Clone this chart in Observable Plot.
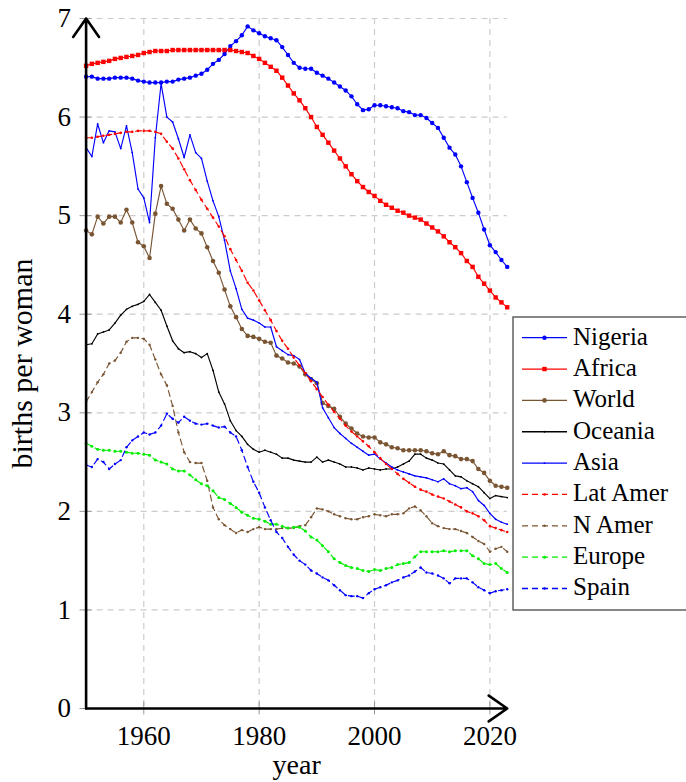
<!DOCTYPE html>
<html><head><meta charset="utf-8">
<script src="https://cdn.jsdelivr.net/npm/d3@7"></script>
<script src="https://cdn.jsdelivr.net/npm/@observablehq/plot@0.6"></script>
<style>
body{margin:0;background:#fff;overflow:hidden}
#chart{position:relative;width:686px;height:782px}
</style>
</head><body><div id="chart"></div>
<script>
const years = d3.range(1950, 2024);
const yTicks = [0, 1, 2, 3, 4, 5, 6, 7];
const xTicks = [1960, 1980, 2000, 2020];
const names = ["Nigeria", "Africa", "World", "Oceania", "Asia", "Lat Amer", "N Amer", "Europe", "Spain"];

const nigeria = [
 6.41,6.41,6.39,6.39,6.39,6.40,6.40,6.40,6.39,6.37,
 6.36,6.35,6.35,6.35,6.36,6.36,6.38,6.39,6.40,6.42,
 6.44,6.48,6.54,6.58,6.64,6.72,6.77,6.83,6.92,6.88,
 6.85,6.82,6.80,6.78,6.71,6.63,6.55,6.50,6.49,6.49,
 6.45,6.42,6.39,6.35,6.31,6.27,6.21,6.13,6.07,6.08,
 6.12,6.12,6.11,6.10,6.09,6.06,6.05,6.02,6.02,5.99,
 5.94,5.89,5.79,5.69,5.62,5.50,5.34,5.18,5.03,4.86,
 4.70,4.63,4.55,4.48];
const africa = [
 6.52,6.54,6.55,6.56,6.57,6.59,6.60,6.61,6.62,6.63,
 6.65,6.66,6.67,6.67,6.67,6.68,6.68,6.68,6.68,6.68,
 6.68,6.68,6.68,6.68,6.68,6.68,6.67,6.66,6.65,6.62,
 6.59,6.55,6.51,6.47,6.40,6.32,6.24,6.17,6.09,6.00,
 5.90,5.82,5.74,5.66,5.58,5.50,5.42,5.35,5.29,5.24,
 5.20,5.15,5.11,5.08,5.05,5.03,5.00,4.98,4.96,4.92,
 4.88,4.84,4.79,4.73,4.68,4.62,4.54,4.48,4.38,4.31,
 4.24,4.17,4.12,4.07];
const world = [
 4.85,4.81,4.99,4.92,4.99,4.99,4.93,5.06,4.93,4.73,
 4.69,4.57,5.02,5.30,5.12,5.07,4.96,4.85,4.96,4.87,
 4.82,4.68,4.54,4.42,4.25,4.08,3.97,3.85,3.78,3.77,
 3.75,3.72,3.71,3.58,3.55,3.51,3.50,3.47,3.39,3.34,
 3.30,3.10,3.07,3.04,2.96,2.89,2.84,2.79,2.76,2.75,
 2.75,2.70,2.68,2.65,2.64,2.62,2.62,2.62,2.62,2.61,
 2.59,2.58,2.61,2.57,2.56,2.53,2.53,2.51,2.43,2.39,
 2.31,2.26,2.25,2.24];
const oceania = [
 3.69,3.70,3.80,3.82,3.84,3.91,3.99,4.05,4.08,4.10,
 4.13,4.20,4.12,4.04,3.88,3.73,3.65,3.61,3.62,3.60,
 3.56,3.60,3.43,3.21,3.09,2.92,2.82,2.76,2.68,2.63,
 2.60,2.62,2.60,2.58,2.54,2.54,2.52,2.51,2.50,2.50,
 2.55,2.50,2.52,2.50,2.48,2.45,2.45,2.44,2.42,2.44,
 2.43,2.42,2.43,2.43,2.45,2.48,2.51,2.58,2.58,2.54,
 2.52,2.49,2.48,2.42,2.36,2.35,2.31,2.28,2.25,2.19,
 2.13,2.16,2.15,2.14];
const asia = [
 5.69,5.60,5.93,5.74,5.86,5.85,5.68,5.91,5.64,5.27,
 5.18,4.93,5.79,6.34,6.00,5.95,5.78,5.59,5.82,5.64,
 5.58,5.35,5.15,4.99,4.75,4.44,4.26,4.05,3.96,3.94,
 3.91,3.87,3.87,3.67,3.63,3.59,3.58,3.54,3.40,3.35,
 3.31,3.05,2.95,2.85,2.79,2.74,2.69,2.65,2.61,2.57,
 2.58,2.53,2.49,2.45,2.42,2.40,2.38,2.36,2.35,2.34,
 2.32,2.30,2.33,2.28,2.26,2.23,2.24,2.20,2.11,2.06,
 1.98,1.92,1.89,1.87];
const latAmer = [
 5.79,5.79,5.80,5.81,5.82,5.83,5.84,5.85,5.85,5.86,
 5.86,5.86,5.85,5.83,5.75,5.68,5.58,5.47,5.36,5.26,
 5.16,5.07,4.98,4.89,4.79,4.66,4.55,4.44,4.32,4.24,
 4.14,4.04,3.94,3.83,3.73,3.65,3.56,3.48,3.40,3.32,
 3.24,3.16,3.08,3.01,2.94,2.87,2.81,2.76,2.71,2.66,
 2.60,2.54,2.48,2.43,2.38,2.33,2.29,2.25,2.22,2.20,
 2.17,2.15,2.13,2.10,2.07,2.04,2.00,1.98,1.95,1.91,
 1.85,1.83,1.81,1.79];
const nAmer = [
 3.11,3.21,3.31,3.39,3.50,3.53,3.61,3.72,3.76,3.76,
 3.75,3.69,3.54,3.39,3.28,3.07,2.80,2.60,2.50,2.49,
 2.49,2.31,2.04,1.92,1.86,1.82,1.78,1.81,1.79,1.82,
 1.84,1.82,1.82,1.82,1.83,1.83,1.83,1.85,1.86,1.94,
 2.03,2.02,2.00,1.97,1.95,1.93,1.92,1.92,1.94,1.95,
 1.97,1.96,1.95,1.97,1.97,1.98,2.03,2.05,2.01,1.95,
 1.88,1.85,1.83,1.82,1.82,1.80,1.78,1.74,1.70,1.67,
 1.59,1.62,1.64,1.59];
const europe = [
 2.69,2.66,2.63,2.62,2.62,2.61,2.61,2.60,2.59,2.59,
 2.58,2.57,2.52,2.50,2.48,2.43,2.41,2.41,2.37,2.32,
 2.28,2.26,2.21,2.14,2.12,2.08,2.04,1.99,1.96,1.93,
 1.92,1.90,1.87,1.87,1.85,1.83,1.84,1.84,1.80,1.74,
 1.71,1.65,1.59,1.52,1.48,1.45,1.43,1.42,1.40,1.39,
 1.41,1.40,1.42,1.43,1.46,1.47,1.48,1.54,1.59,1.59,
 1.59,1.59,1.60,1.59,1.60,1.60,1.60,1.55,1.52,1.47,
 1.46,1.47,1.42,1.38];
const spain = [
 2.47,2.45,2.53,2.50,2.43,2.48,2.52,2.65,2.72,2.76,
 2.80,2.78,2.80,2.87,2.99,2.94,2.90,2.96,2.92,2.89,
 2.88,2.89,2.87,2.85,2.86,2.80,2.76,2.62,2.45,2.30,
 2.19,2.04,1.91,1.79,1.73,1.64,1.56,1.50,1.46,1.40,
 1.37,1.33,1.30,1.25,1.20,1.15,1.14,1.14,1.12,1.17,
 1.21,1.23,1.25,1.28,1.30,1.33,1.35,1.39,1.43,1.38,
 1.37,1.35,1.32,1.27,1.32,1.32,1.32,1.28,1.23,1.20,
 1.17,1.19,1.20,1.21];

const BLUE = "#0000ff", RED = "#ff0000", BROWN = "#7a5533", GREEN = "#00ee00";
const series = [
  {values: nigeria, color: BLUE,  dash: null,  symbol: "circle", r: 2.2},
  {values: africa,  color: RED,   dash: null,  symbol: "square", r: 2.5},
  {values: world,   color: BROWN, dash: null,  symbol: "circle", r: 2.3},
  {values: oceania, color: "#000000", dash: null, symbol: "circle", r: 0.9},
  {values: asia,    color: BLUE,  dash: null,  symbol: "circle", r: 0.9},
  {values: latAmer, color: RED,   dash: "6,4", symbol: "circle", r: 1.3},
  {values: nAmer,   color: BROWN, dash: "6,4", symbol: "circle", r: 1.2},
  {values: europe,  color: GREEN, dash: "6,4", symbol: "circle", r: 1.5},
  {values: spain,   color: BLUE,  dash: "6,4", symbol: "circle", r: 1.2}
].map((s, i) => ({...s, name: names[i], rows: s.values.map((v, j) => ({year: years[j], value: v}))}));

const axesLines = [
  {x1: 1950, y1: 0, x2: 1950, y2: 7},
  {x1: 1950, y1: 0, x2: 2023, y2: 0}
];

const FONT = "'Liberation Serif', 'DejaVu Serif', serif";
const seriesMarks = series.flatMap(s => [
  Plot.line(s.rows, {x: "year", y: "value", stroke: s.color, strokeWidth: 1.15, strokeDasharray: s.dash ?? undefined}),
  Plot.dot(s.rows, {x: "year", y: "value", fill: s.color, stroke: "none", symbol: s.symbol, r: s.r})
]);

const chart = Plot.plot({
  width: 686, height: 782,
  marginLeft: 85.6, marginRight: 179.3, marginTop: 18, marginBottom: 74,
  style: {fontFamily: FONT, background: "white"},
  x: {domain: [1950, 2023]},
  y: {domain: [0, 7]},
  marks: [
    Plot.gridY(yTicks, {stroke: "#cccccc", strokeOpacity: 1, strokeWidth: 1.2, strokeDasharray: "6,5"}),
    Plot.gridX(xTicks, {stroke: "#cccccc", strokeOpacity: 1, strokeWidth: 1.2, strokeDasharray: "6,5"}),
    Plot.ruleY(yTicks, {y: d => d, x1: 1950 - 1.05, x2: 1950 + 1.05, stroke: "#999", strokeWidth: 1}),
    Plot.ruleX(xTicks, {x: d => d, y1: -0.065, y2: 0.065, stroke: "#999", strokeWidth: 1}),
    Plot.axisY(yTicks, {tickSize: 0, tickPadding: 15, fontSize: 27, label: null, fill: "black", tickFormat: d => String(d)}),
    Plot.axisX(xTicks, {tickSize: 0, tickPadding: 17, fontSize: 27, label: null, fill: "black", tickFormat: d => String(d)}),
    ...seriesMarks,
    Plot.arrow(axesLines, {x1: "x1", y1: "y1", x2: "x2", y2: "y2", stroke: "black", strokeWidth: 2.6, headLength: 13, headAngle: 70}),
    Plot.text(["births per woman"], {text: d => d, frameAnchor: "left", textAnchor: "middle", rotate: -90, dx: -64, fontSize: 30, lineAnchor: "middle", fill: "black"}),
    Plot.text(["year"], {text: d => d, frameAnchor: "bottom", textAnchor: "middle", dy: 57, fontSize: 28, lineAnchor: "middle", fill: "black"})
  ]
});

// legend
const svg = d3.select(chart);
const lg = svg.append("g").attr("font-family", FONT).attr("text-anchor", "start");
lg.append("rect").attr("x", 513).attr("y", 317).attr("width", 185).attr("height", 293)
  .attr("fill", "white").attr("stroke", "#555").attr("stroke-width", 1.4);
series.forEach((s, i) => {
  const cy = 337.7 + i * 31.35;
  lg.append("line").attr("x1", 522).attr("x2", 567).attr("y1", cy).attr("y2", cy)
    .attr("stroke", s.color).attr("stroke-width", 1.3).attr("stroke-dasharray", s.dash);
  lg.append("path")
    .attr("d", d3.symbol(s.symbol === "square" ? d3.symbolSquare : d3.symbolCircle, Math.PI * s.r * s.r)())
    .attr("transform", `translate(544.5,${cy})`).attr("fill", s.color);
  lg.append("text").attr("x", 573).attr("y", cy + 6.8).attr("font-size", 25).attr("fill", "black")
    .attr("text-anchor", "start").text(s.name);
});

document.getElementById("chart").append(chart);
</script>
</body></html>
